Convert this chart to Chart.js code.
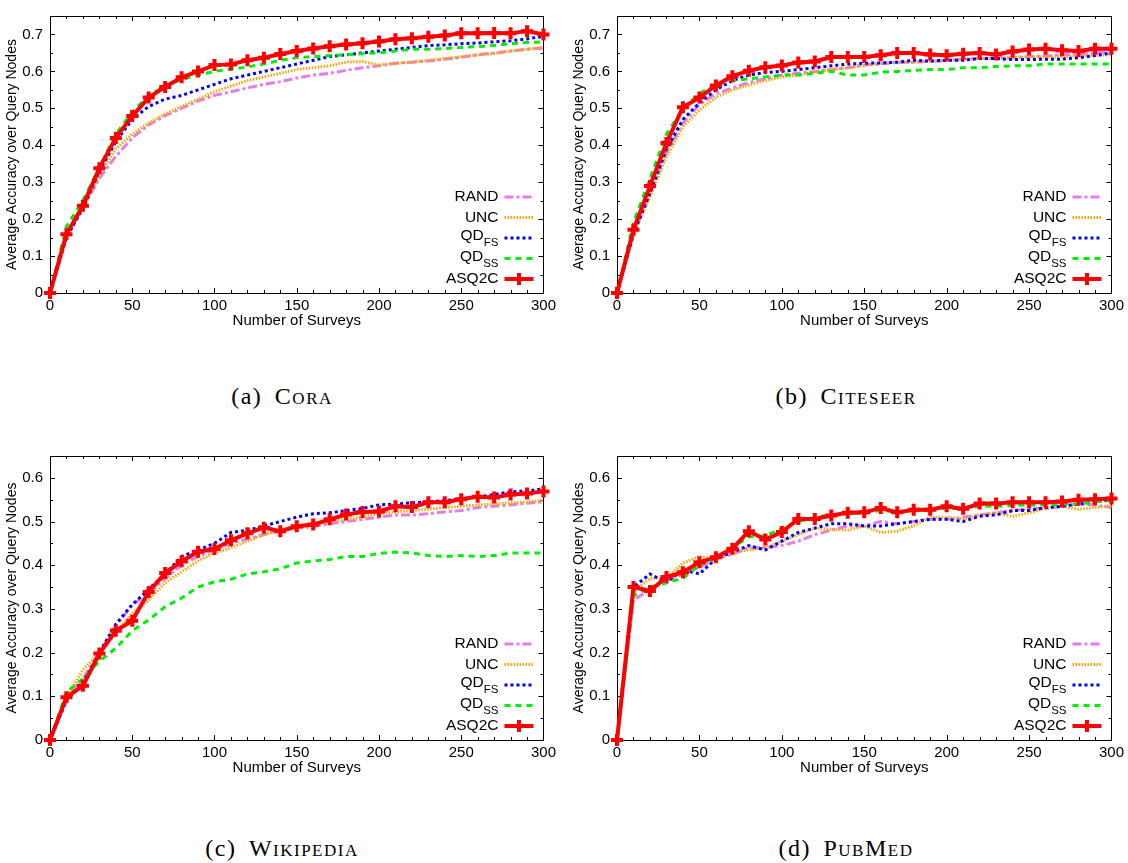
<!DOCTYPE html>
<html>
<head>
<meta charset="utf-8">
<script src="https://cdn.jsdelivr.net/npm/chart.js@4.4.1/dist/chart.umd.min.js"></script>
<style>
  body { margin: 0; background: #fff; width: 1128px; height: 863px; position: relative; overflow: hidden; }
  .panel { position: absolute; }
  .caption { position: absolute; width: 564px; text-align: center; font-family: "Liberation Serif", serif; font-size: 24px; letter-spacing: 1.5px; word-spacing: 5px; color: #000; }
  .sc { font-variant: small-caps; }
</style>
</head>
<body>
<div class="panel" style="left:0;top:0;width:560px;height:330px"><canvas id="cora"></canvas></div>
<div class="panel" style="left:560px;top:0;width:568px;height:330px"><canvas id="citeseer"></canvas></div>
<div class="panel" style="left:0;top:440px;width:560px;height:337px"><canvas id="wikipedia"></canvas></div>
<div class="panel" style="left:560px;top:440px;width:568px;height:337px"><canvas id="pubmed"></canvas></div>

<div class="caption" style="left:0;top:383px">(a) <span class="sc">Cora</span></div>
<div class="caption" style="left:564px;top:383px">(b) <span class="sc">Citeseer</span></div>
<div class="caption" style="left:0;top:835px">(c) <span class="sc">Wikipedia</span></div>
<div class="caption" style="left:564px;top:835px">(d) <span class="sc">PubMed</span></div>

<script>
// x values: number of surveys
const surveys = [0, 10, 20, 30, 40, 50, 60, 70, 80, 90, 100, 110, 120, 130, 140, 150,
  160, 170, 180, 190, 200, 210, 220, 230, 240, 250, 260, 270, 280, 290, 300];

// (a) Cora
const coraRand = [0, 0.16, 0.23, 0.31, 0.37, 0.42, 0.455, 0.48, 0.50, 0.52, 0.535, 0.545, 0.555, 0.565, 0.572, 0.582,
  0.59, 0.595, 0.603, 0.61, 0.615, 0.622, 0.625, 0.628, 0.633, 0.638, 0.645, 0.65, 0.655, 0.66, 0.663];
const coraUnc = [0, 0.16, 0.23, 0.32, 0.39, 0.43, 0.46, 0.485, 0.505, 0.525, 0.545, 0.56, 0.575, 0.585, 0.595, 0.605,
  0.61, 0.615, 0.625, 0.627, 0.617, 0.622, 0.625, 0.63, 0.635, 0.64, 0.645, 0.648, 0.655, 0.66, 0.665];
const coraQdFs = [0, 0.15, 0.23, 0.33, 0.41, 0.47, 0.505, 0.525, 0.535, 0.55, 0.565, 0.58, 0.59, 0.60, 0.61, 0.62,
  0.63, 0.64, 0.645, 0.65, 0.655, 0.66, 0.665, 0.67, 0.672, 0.675, 0.677, 0.68, 0.683, 0.688, 0.695];
const coraQdSs = [0, 0.18, 0.25, 0.34, 0.43, 0.49, 0.535, 0.56, 0.578, 0.59, 0.60, 0.606, 0.612, 0.62, 0.63, 0.637,
  0.64, 0.643, 0.645, 0.648, 0.65, 0.655, 0.66, 0.66, 0.662, 0.665, 0.667, 0.67, 0.675, 0.678, 0.68];
const coraAsq2c = [0, 0.159, 0.236, 0.338, 0.42, 0.479, 0.529, 0.558, 0.584, 0.60, 0.617, 0.619, 0.63, 0.637, 0.647, 0.655,
  0.662, 0.668, 0.673, 0.676, 0.681, 0.687, 0.69, 0.694, 0.697, 0.703, 0.703, 0.704, 0.703, 0.709, 0.70];

// (b) Citeseer
const citeRand = [0, 0.16, 0.27, 0.38, 0.46, 0.51, 0.54, 0.555, 0.57, 0.58, 0.59, 0.595, 0.60, 0.605, 0.61, 0.617,
  0.62, 0.625, 0.625, 0.627, 0.63, 0.633, 0.635, 0.635, 0.637, 0.64, 0.642, 0.645, 0.647, 0.65, 0.653];
const citeUnc = [0, 0.16, 0.26, 0.37, 0.45, 0.495, 0.53, 0.55, 0.563, 0.575, 0.585, 0.59, 0.598, 0.605, 0.61, 0.617,
  0.622, 0.625, 0.625, 0.627, 0.63, 0.632, 0.635, 0.635, 0.637, 0.64, 0.64, 0.64, 0.642, 0.643, 0.645];
const citeQdFs = [0, 0.16, 0.27, 0.39, 0.47, 0.515, 0.55, 0.575, 0.59, 0.597, 0.60, 0.605, 0.61, 0.615, 0.62, 0.622,
  0.623, 0.625, 0.63, 0.628, 0.63, 0.63, 0.635, 0.635, 0.632, 0.632, 0.633, 0.633, 0.637, 0.643, 0.65];
const citeQdSs = [0, 0.19, 0.31, 0.43, 0.50, 0.54, 0.565, 0.575, 0.58, 0.585, 0.59, 0.59, 0.595, 0.60, 0.59, 0.59,
  0.598, 0.60, 0.603, 0.605, 0.605, 0.61, 0.61, 0.613, 0.615, 0.615, 0.62, 0.62, 0.62, 0.62, 0.62];
const citeAsq2c = [0, 0.171, 0.29, 0.406, 0.503, 0.529, 0.562, 0.587, 0.602, 0.611, 0.616, 0.624, 0.627, 0.639, 0.639, 0.639,
  0.644, 0.65, 0.65, 0.646, 0.644, 0.648, 0.65, 0.646, 0.654, 0.659, 0.661, 0.657, 0.655, 0.661, 0.661];

// (c) Wikipedia
const wikiRand = [0, 0.10, 0.14, 0.20, 0.26, 0.31, 0.335, 0.37, 0.40, 0.42, 0.435, 0.45, 0.46, 0.47, 0.48, 0.485,
  0.488, 0.495, 0.50, 0.505, 0.51, 0.515, 0.515, 0.518, 0.522, 0.525, 0.532, 0.535, 0.538, 0.542, 0.545];
const wikiUnc = [0, 0.10, 0.16, 0.20, 0.245, 0.29, 0.32, 0.36, 0.385, 0.41, 0.428, 0.44, 0.455, 0.47, 0.48, 0.485,
  0.492, 0.50, 0.505, 0.51, 0.518, 0.522, 0.525, 0.528, 0.532, 0.535, 0.538, 0.54, 0.543, 0.545, 0.548];
const wikiQdFs = [0, 0.09, 0.13, 0.20, 0.265, 0.31, 0.345, 0.38, 0.42, 0.435, 0.45, 0.475, 0.48, 0.49, 0.50, 0.51,
  0.518, 0.52, 0.525, 0.53, 0.538, 0.54, 0.543, 0.545, 0.548, 0.552, 0.556, 0.562, 0.568, 0.57, 0.575];
const wikiQdSs = [0, 0.11, 0.14, 0.18, 0.21, 0.25, 0.275, 0.305, 0.325, 0.35, 0.362, 0.368, 0.38, 0.385, 0.392, 0.405,
  0.41, 0.413, 0.42, 0.42, 0.427, 0.43, 0.428, 0.422, 0.42, 0.422, 0.42, 0.422, 0.428, 0.428, 0.428];
const wikiAsq2c = [0, 0.098, 0.124, 0.198, 0.25, 0.273, 0.339, 0.382, 0.409, 0.431, 0.437, 0.457, 0.473, 0.486, 0.478, 0.489,
  0.493, 0.505, 0.516, 0.522, 0.523, 0.535, 0.533, 0.544, 0.544, 0.551, 0.557, 0.555, 0.562, 0.564, 0.569];

// (d) PubMed
const pubRand = [0, 0.32, 0.345, 0.365, 0.38, 0.395, 0.415, 0.425, 0.44, 0.44, 0.445, 0.455, 0.47, 0.48, 0.49, 0.49,
  0.50, 0.495, 0.50, 0.505, 0.505, 0.51, 0.515, 0.52, 0.525, 0.53, 0.53, 0.535, 0.54, 0.538, 0.532];
const pubUnc = [0, 0.34, 0.37, 0.37, 0.405, 0.42, 0.415, 0.43, 0.435, 0.44, 0.455, 0.47, 0.485, 0.482, 0.48, 0.49,
  0.475, 0.478, 0.49, 0.51, 0.51, 0.505, 0.515, 0.52, 0.512, 0.52, 0.53, 0.535, 0.528, 0.532, 0.535];
const pubQdFs = [0, 0.35, 0.38, 0.36, 0.39, 0.38, 0.415, 0.43, 0.445, 0.435, 0.455, 0.475, 0.485, 0.495, 0.495, 0.49,
  0.49, 0.495, 0.50, 0.505, 0.505, 0.50, 0.512, 0.515, 0.525, 0.525, 0.532, 0.535, 0.54, 0.545, 0.55];
const pubQdSs = [0, 0.33, 0.35, 0.36, 0.37, 0.40, 0.415, 0.44, 0.465, 0.467, 0.485, 0.50, 0.51, 0.515, 0.518, 0.52,
  0.525, 0.523, 0.525, 0.527, 0.53, 0.53, 0.535, 0.535, 0.537, 0.538, 0.538, 0.54, 0.54, 0.545, 0.548];
const pubAsq2c = [0, 0.35, 0.341, 0.373, 0.384, 0.407, 0.418, 0.438, 0.478, 0.459, 0.476, 0.506, 0.506, 0.514, 0.52, 0.521,
  0.531, 0.521, 0.527, 0.527, 0.535, 0.529, 0.541, 0.541, 0.544, 0.544, 0.544, 0.546, 0.55, 0.551, 0.553];

// legend text: [main, subscript]
const seriesLabels = [['RAND', ''], ['UNC', ''], ['QD', 'FS'], ['QD', 'SS'], ['ASQ2C', '']];
const xTitle = 'Number of Surveys';
const yTitle = 'Average Accuracy over Query Nodes';

const FONT = '"Liberation Sans", Arial, sans-serif';
const lineStyles = [
  { color: '#e77be7', width: 3, dash: [9, 3, 3, 3] },
  { color: '#ffa500', width: 3, dash: [1.5, 1.5] },
  { color: '#0000ff', width: 3, dash: [3, 3] },
  { color: '#00ee00', width: 3, dash: [6, 5] },
  { color: '#ff0000', width: 4, dash: [] }
];

// gnuplot style frame with inward ticks on all sides
const framePlugin = {
  id: 'frame',
  beforeDatasetsDraw(chart) {
    const { left, right, top, bottom } = chart.chartArea;
    const ctx = chart.ctx;
    ctx.save();
    ctx.strokeStyle = '#000';
    ctx.lineWidth = 1;
    ctx.beginPath();
    chart.scales.x.ticks.forEach(t => {
      const px = Math.round(chart.scales.x.getPixelForValue(t.value)) + 0.5;
      const len = Math.round(t.value) % 50 === 0 ? 5 : 3;
      ctx.moveTo(px, bottom); ctx.lineTo(px, bottom - len);
      ctx.moveTo(px, top); ctx.lineTo(px, top + len);
    });
    chart.scales.y.ticks.forEach(t => {
      const py = Math.round(chart.scales.y.getPixelForValue(t.value)) + 0.5;
      const len = Math.round(t.value * 100) % 10 === 0 ? 5 : 3;
      ctx.moveTo(left, py); ctx.lineTo(left + len, py);
      ctx.moveTo(right, py); ctx.lineTo(right - len, py);
    });
    ctx.stroke();
    ctx.strokeRect(Math.round(left) + 0.5, Math.round(top) + 0.5, Math.round(right - left), Math.round(bottom - top));
    ctx.restore();
  }
};

// key in the lower right corner, label right aligned and sample on the right
const keyPlugin = {
  id: 'key',
  afterDatasetsDraw(chart) {
    const { right, bottom } = chart.chartArea;
    const ctx = chart.ctx;
    ctx.save();
    chart.data.datasets.forEach((ds, i) => {
      const y = bottom - 14 - (4 - i) * 20.5;
      const [main, sub] = seriesLabels[i];
      let textRight = right - 45;
      ctx.fillStyle = '#000';
      ctx.textBaseline = 'middle';
      ctx.textAlign = 'right';
      if (sub) {
        ctx.font = '11.5px ' + FONT;
        ctx.fillText(sub, textRight, y + 5);
        textRight -= ctx.measureText(sub).width;
        ctx.font = '15.5px ' + FONT;
        ctx.fillText(main, textRight, y - 2);
      } else {
        ctx.font = '15.5px ' + FONT;
        ctx.fillText(main, textRight, y);
      }
      ctx.strokeStyle = ds.borderColor;
      ctx.lineWidth = ds.borderWidth;
      ctx.setLineDash(ds.borderDash || []);
      ctx.beginPath();
      ctx.moveTo(right - 39, y);
      ctx.lineTo(right - 10, y);
      ctx.stroke();
      ctx.setLineDash([]);
      if (ds.pointRadius > 0) {
        const cx = right - 24.5, r = ds.pointRadius;
        ctx.lineWidth = ds.pointBorderWidth;
        ctx.beginPath();
        ctx.moveTo(cx - r, y); ctx.lineTo(cx + r, y);
        ctx.moveTo(cx, y - r); ctx.lineTo(cx, y + r);
        ctx.stroke();
      }
    });
    ctx.restore();
  }
};

function makePanel(id, values, yMax, yAxisWidth, padTop, padRight, yTitlePad) {
  const datasets = values.map((vals, i) => {
    const st = lineStyles[i];
    const isMain = i === 4;
    return {
      label: seriesLabels[i].join(''),
      data: surveys.map((x, j) => ({ x: x, y: vals[j] })),
      borderColor: st.color,
      backgroundColor: st.color,
      borderWidth: st.width,
      borderDash: st.dash,
      tension: 0,
      clip: false,
      order: 5 - i,
      pointStyle: 'cross',
      pointRadius: isMain ? 6 : 0,
      pointBorderWidth: isMain ? 4 : 0,
      pointBorderColor: st.color,
      pointHoverRadius: 0
    };
  });

  new Chart(document.getElementById(id), {
    type: 'line',
    data: { datasets },
    plugins: [framePlugin, keyPlugin],
    options: {
      responsive: true,
      maintainAspectRatio: false,
      animation: false,
      events: [],
      layout: { padding: { top: padTop, right: padRight, left: 0, bottom: 0 } },
      plugins: {
        legend: { display: false },
        tooltip: { enabled: false }
      },
      scales: {
        x: {
          type: 'linear',
          min: 0,
          max: 300,
          border: { display: false },
          grid: { display: false, drawTicks: false },
          ticks: {
            stepSize: 10,
            autoSkip: false,
            maxRotation: 0,
            padding: 4,
            color: '#000',
            font: { family: FONT, size: 15 },
            callback: v => (Math.round(v) % 50 === 0 ? String(Math.round(v)) : '')
          },
          title: {
            display: true,
            text: xTitle,
            color: '#000',
            font: { family: FONT, size: 15 },
            padding: 0
          },
          afterFit: s => { s.height = 37; }
        },
        y: {
          min: 0,
          max: yMax,
          border: { display: false },
          grid: { display: false, drawTicks: false },
          ticks: {
            stepSize: 0.05,
            autoSkip: false,
            padding: 7,
            color: '#000',
            font: { family: FONT, size: 15 },
            callback: v => {
              const r = Math.round(v * 100);
              return r % 10 === 0 ? String(r / 100) : '';
            }
          },
          title: {
            display: true,
            text: yTitle,
            color: '#000',
            font: { family: FONT, size: 14 },
            padding: { top: yTitlePad, bottom: 0 }
          },
          afterFit: s => { s.width = yAxisWidth; }
        }
      }
    }
  });
}

makePanel('cora', [coraRand, coraUnc, coraQdFs, coraQdSs, coraAsq2c], 0.75, 50, 5, 16, 4);
makePanel('citeseer', [citeRand, citeUnc, citeQdFs, citeQdSs, citeAsq2c], 0.75, 57, 5, 15, 11);
makePanel('wikipedia', [wikiRand, wikiUnc, wikiQdFs, wikiQdSs, wikiAsq2c], 0.65, 50, 12, 16, 4);
makePanel('pubmed', [pubRand, pubUnc, pubQdFs, pubQdSs, pubAsq2c], 0.65, 57, 12, 15, 11);
</script>
</body>
</html>
